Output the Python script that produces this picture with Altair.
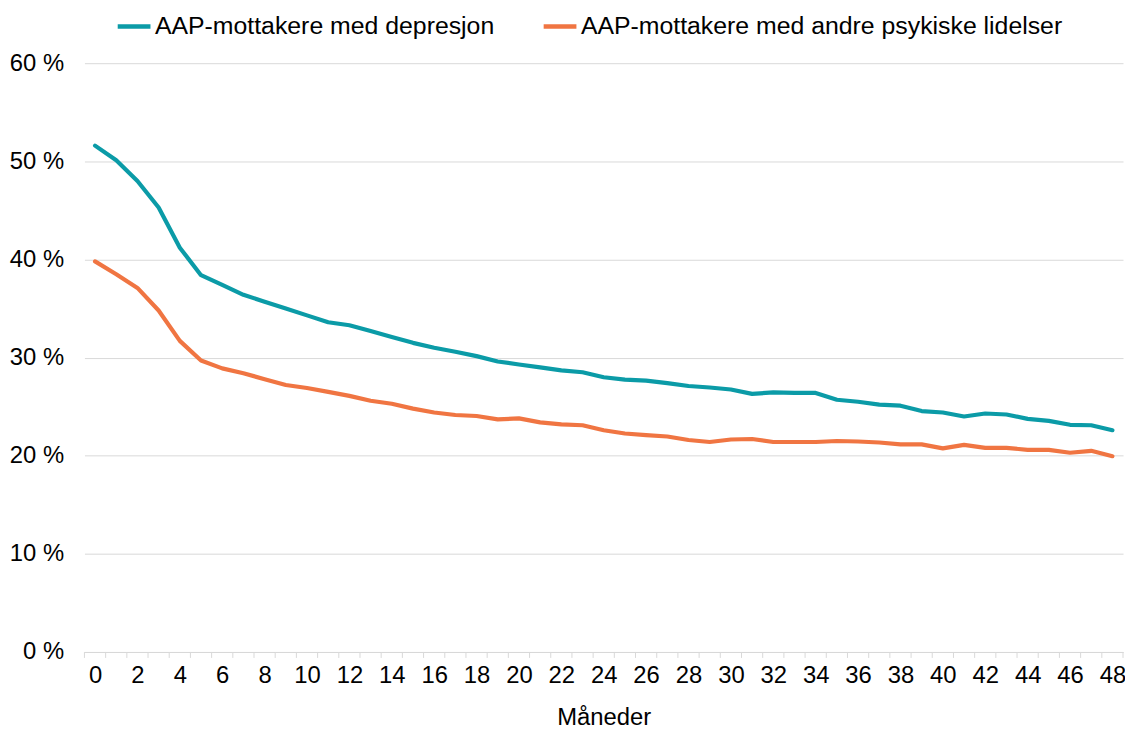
import altair as alt
import pandas as pd

months = list(range(49))
series_names = ["AAP-mottakere med depresjon", "AAP-mottakere med andre psykiske lidelser"]
depresjon = [51.6, 50.1, 48.0, 45.3, 41.2, 38.4, 37.4, 36.4, 35.7, 35.0,
             34.3, 33.6, 33.3, 32.7, 32.1, 31.5, 31.0, 30.6, 30.15, 29.6,
             29.3, 29.0, 28.7, 28.5, 28.0, 27.75, 27.65, 27.4, 27.1, 26.95,
             26.75, 26.3, 26.45, 26.4, 26.4, 25.7, 25.5, 25.2, 25.1, 24.55,
             24.4, 24.0, 24.3, 24.2, 23.75, 23.55, 23.15, 23.1, 22.6]
andre = [39.8, 38.5, 37.1, 34.8, 31.7, 29.7, 28.9, 28.4, 27.8, 27.2,
         26.9, 26.5, 26.1, 25.6, 25.3, 24.8, 24.4, 24.15, 24.05, 23.7,
         23.8, 23.4, 23.2, 23.1, 22.6, 22.26, 22.1, 21.96, 21.6, 21.4,
         21.65, 21.7, 21.4, 21.4, 21.4, 21.5, 21.45, 21.35, 21.15, 21.15,
         20.75, 21.1, 20.8, 20.8, 20.6, 20.6, 20.3, 20.5, 19.95]
colors = ["#0B9BA7", "#F07542"]
y_ticks = [0, 10, 20, 30, 40, 50, 60]
x_label_values = list(range(0, 49, 2))
x_tick_positions = [m - 0.5 for m in range(50)]

rows = []
for m, v in zip(months, depresjon):
    rows.append({"Måned": m, "Andel": v / 100, "Serie": series_names[0]})
for m, v in zip(months, andre):
    rows.append({"Måned": m, "Andel": v / 100, "Serie": series_names[1]})
df = pd.DataFrame(rows)
ticks_df = pd.DataFrame({"Måned": x_tick_positions})

FONT = "Liberation Sans"
FS = 24
H = 593

x_scale = alt.Scale(domain=[-0.5, 48.5], nice=False, zero=False)

lines = alt.Chart(df).mark_line(strokeWidth=4.2, strokeCap="round", strokeJoin="round").encode(
    x=alt.X("Måned:Q", scale=x_scale,
            axis=alt.Axis(values=x_label_values, title="Måneder", grid=False,
                          format="d", labelOverlap=False, labelFlush=False,
                          ticks=False,
                          domainColor="#d9d9d9", domainWidth=1,
                          labelPadding=12, labelFontSize=FS, labelFont=FONT, labelColor="#000000",
                          titleFontSize=FS, titleFont=FONT, titleFontWeight="normal",
                          titleColor="#000000", titlePadding=18)),
    y=alt.Y("Andel:Q",
            scale=alt.Scale(domain=[0, 0.6], nice=False),
            axis=alt.Axis(values=[v / 100 for v in y_ticks], title=None,
                          labelExpr="format(datum.value * 100, 'd') + ' %'",
                          domain=False, ticks=False, grid=True,
                          gridColor="#d9d9d9", gridWidth=1,
                          labelPadding=21, labelFontSize=FS, labelFont=FONT, labelColor="#000000")),
    color=alt.Color("Serie:N",
                    scale=alt.Scale(domain=series_names, range=colors),
                    legend=alt.Legend(title=None, orient="none", direction="horizontal",
                                      legendX=31, legendY=-56, padding=0,
                                      symbolType="stroke", symbolSize=1089,
                                      symbolStrokeWidth=4.5, labelOffset=2,
                                      columnPadding=40,
                                      labelFontSize=25, labelFont=FONT, labelColor="#000000",
                                      labelLimit=0)),
)

tick_marks = alt.Chart(ticks_df).mark_rule(color="#d9d9d9", strokeWidth=1).encode(
    x=alt.X("Måned:Q", scale=x_scale),
    y=alt.value(H),
    y2=alt.value(H + 6),
)

chart = alt.layer(lines, tick_marks).properties(
    width=1046, height=H,
    autosize=alt.AutoSizeParams(type="none"),
    padding={"left": 77, "top": 53, "right": 2, "bottom": 75},
).configure_view(stroke=None)

chart.save("out.html", embed_options={"renderer": "svg", "actions": False})
